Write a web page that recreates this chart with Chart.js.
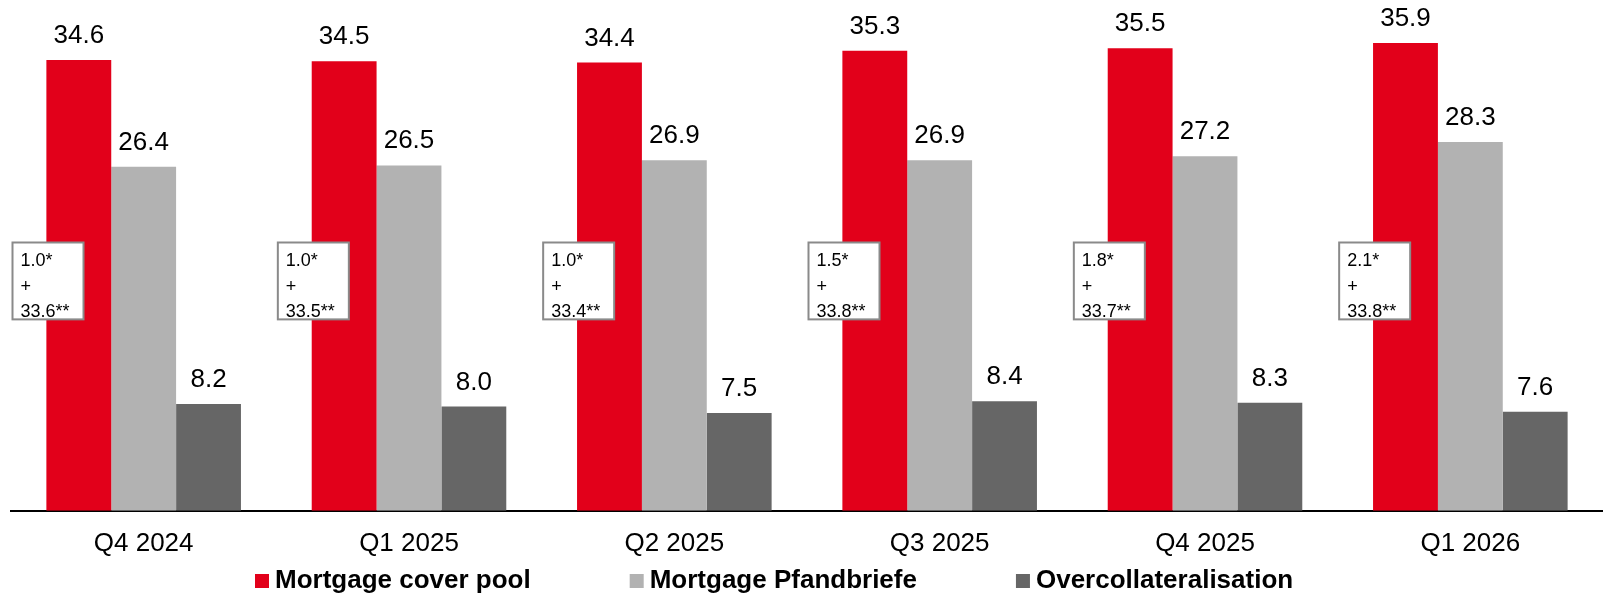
<!DOCTYPE html>
<html>
<head>
<meta charset="utf-8">
<script src="https://cdn.jsdelivr.net/npm/chart.js@4/dist/chart.umd.min.js"></script>
<style>
  html, body { margin: 0; padding: 0; background: #ffffff; }
  #wrap { width: 1603px; height: 595px; }
</style>
</head>
<body>
<div id="wrap"><canvas id="c" width="1603" height="595"></canvas></div>
<script>
// ---- Data ----
const categories = ['Q4 2024', 'Q1 2025', 'Q2 2025', 'Q3 2025', 'Q4 2025', 'Q1 2026'];
const coverPool = [34.6, 34.5, 34.4, 35.3, 35.5, 35.9];
const pfandbriefe = [26.4, 26.5, 26.9, 26.9, 27.2, 28.3];
const overcollateral = [8.2, 8.0, 7.5, 8.4, 8.3, 7.6];
const noteFirst = ['1.0*', '1.0*', '1.0*', '1.5*', '1.8*', '2.1*'];
const noteSecond = ['33.6**', '33.5**', '33.4**', '33.8**', '33.7**', '33.8**'];
const seriesNames = ['Mortgage cover pool', 'Mortgage Pfandbriefe', 'Overcollateralisation'];

const FONT = "'Liberation Sans', Arial, Helvetica, sans-serif";
const colors = ['#E2001A', '#B2B2B2', '#666666'];

const valueLabels = {
  id: 'valueLabels',
  afterDatasetsDraw(chart) {
    const ctx = chart.ctx;
    ctx.save();
    ctx.font = '26px ' + FONT;
    ctx.fillStyle = '#000000';
    ctx.textAlign = 'center';
    ctx.textBaseline = 'alphabetic';
    chart.data.datasets.forEach((ds, di) => {
      const meta = chart.getDatasetMeta(di);
      meta.data.forEach((bar, i) => {
        ctx.fillText(ds.data[i].toFixed(1), bar.x, bar.y - 17);
      });
    });
    ctx.restore();
  }
};

const noteBoxes = {
  id: 'noteBoxes',
  afterDatasetsDraw(chart, args, opts) {
    const ctx = chart.ctx;
    const xs = chart.scales.x, ys = chart.scales.y;
    const half = (xs.getPixelForValue(1) - xs.getPixelForValue(0)) / 2;
    const top = ys.getPixelForValue(opts.topValue);
    const bottom = ys.getPixelForValue(opts.bottomValue);
    ctx.save();
    categories.forEach((c, i) => {
      const left = xs.getPixelForValue(i) - half + 1.5;
      const w = 71;
      ctx.fillStyle = '#ffffff';
      ctx.fillRect(left, top, w, bottom - top);
      ctx.strokeStyle = '#8a8a8a';
      ctx.lineWidth = 2;
      ctx.strokeRect(left, top, w, bottom - top);
      ctx.fillStyle = '#000000';
      ctx.font = '18px ' + FONT;
      ctx.textAlign = 'left';
      ctx.textBaseline = 'alphabetic';
      const tx = left + 8;
      ctx.fillText(noteFirst[i], tx, top + 23.5);
      ctx.fillText('+', tx, top + 49.5);
      ctx.fillText(noteSecond[i], tx, top + 75);
    });
    ctx.restore();
  }
};

const customLegend = {
  id: 'customLegend',
  afterDraw(chart) {
    const ctx = chart.ctx;
    ctx.save();
    ctx.font = 'bold 26px ' + FONT;
    ctx.textBaseline = 'alphabetic';
    ctx.textAlign = 'left';
    let x = 255;
    const baseY = 588;
    chart.data.datasets.forEach((ds) => {
      ctx.fillStyle = ds.backgroundColor;
      ctx.fillRect(x, baseY - 14, 14, 14);
      ctx.fillStyle = '#000000';
      ctx.fillText(ds.label, x + 20, baseY);
      x += 20 + ctx.measureText(ds.label).width + 99;
    });
    ctx.restore();
  }
};

new Chart(document.getElementById('c'), {
  type: 'bar',
  data: {
    labels: categories,
    datasets: [
      { label: seriesNames[0], data: coverPool, backgroundColor: colors[0] },
      { label: seriesNames[1], data: pfandbriefe, backgroundColor: colors[1] },
      { label: seriesNames[2], data: overcollateral, backgroundColor: colors[2] }
    ]
  },
  options: {
    responsive: false,
    devicePixelRatio: 1,
    animation: false,
    layout: { padding: { left: 11, right: -3.5, top: 0, bottom: 19 } },
    datasets: { bar: { categoryPercentage: 0.7333, barPercentage: 1.0 } },
    scales: {
      x: {
        grid: { display: false, drawTicks: false },
        border: { display: true, color: '#000000', width: 2 },
        ticks: { color: '#000000', font: { family: FONT, size: 26 }, padding: 17, maxRotation: 0, autoSkip: false }
      },
      y: { display: false, min: 0, max: 39.2 }
    },
    plugins: {
      legend: { display: false },
      tooltip: { enabled: false },
      noteBoxes: { topValue: 20.59, bottomValue: 14.69 }
    }
  },
  plugins: [valueLabels, noteBoxes, customLegend]
});
</script>
</body>
</html>
